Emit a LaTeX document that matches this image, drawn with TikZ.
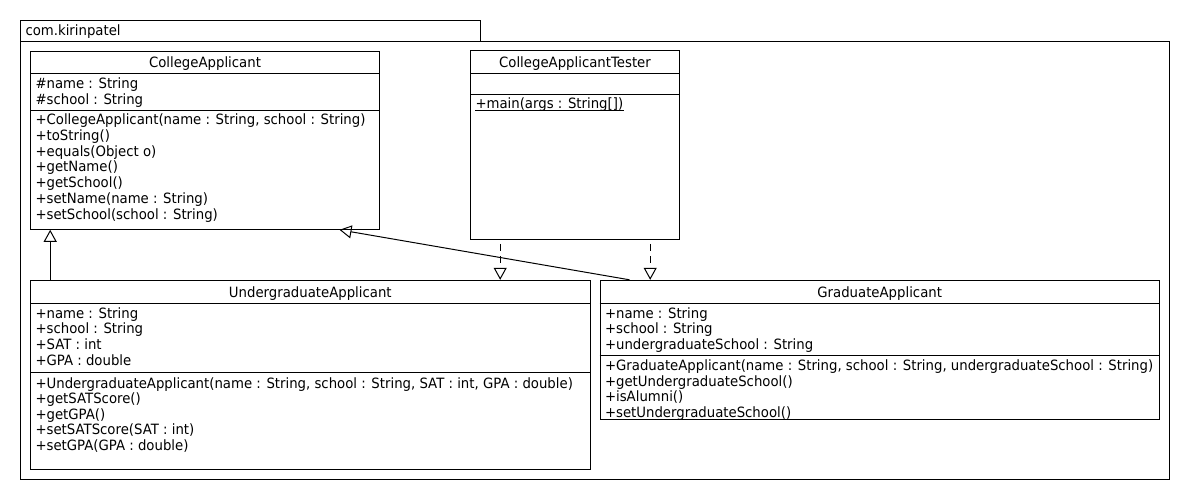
\documentclass[tikz,border=0pt]{standalone}
\usepackage{fontspec}
\setmainfont{DejaVu Sans}[FakeStretch=0.935]
\usetikzlibrary{arrows.meta,fit,calc}
\begin{document}
\begin{tikzpicture}[x=0.75pt,y=-0.75pt, line width=0.75pt,
  box/.style={draw, inner sep=0pt},
  txt/.style={anchor=base west, inner sep=0pt, font=\fontsize{10.65pt}{12pt}\selectfont},
  ttl/.style={anchor=base, inner sep=0pt, font=\fontsize{10.65pt}{12pt}\selectfont},
  gen/.style={-{Triangle[open,length=9pt,width=9.75pt]}},
  dep/.style={gen, dash pattern=on 5.25pt off 3.75pt, dash phase=6pt}]
\useasboundingbox (0,0) rectangle (1190,500);
\fill[white] (0,0) rectangle (1190,500);

% package frame
\coordinate (tab-nw) at (20.7,20);   \coordinate (tab-se) at (480.7,41);
\node[box, fit=(tab-nw)(tab-se)] (tab) {};
\coordinate (pk-nw) at (20.7,41);    \coordinate (pk-se) at (1169.3,479);
\node[box, fit=(pk-nw)(pk-se)] (pkg) {};
\node[txt] (pkname) at (25,35.5) {com.kirinpatel};

% CollegeApplicant
\coordinate (ca-nw) at (30.7,51);    \coordinate (ca-se) at (379.3,229.3);
\node[box, fit=(ca-nw)(ca-se)] (ca) {};
\draw (ca.west |- 0,73.5) -- (ca.east |- 0,73.5);
\draw (ca.west |- 0,110) -- (ca.east |- 0,110);
\node[ttl] (ca-title) at (205,67.5) {CollegeApplicant};
\foreach \t [count=\i from 0] in {{\#name : String},{\#school : String}}
  \node[txt] (ca-a\i) at (35,{88.5+\i*15.6}) {\t};
\foreach \t [count=\i from 0] in {{+CollegeApplicant(name : String, school : String)},{+toString()},{+equals(Object o)},{+getName()},{+getSchool()},{+setName(name : String)},{+setSchool(school : String)}}
  \node[txt] (ca-m\i) at (35,{124.5+\i*15.8}) {\t};

% CollegeApplicantTester
\coordinate (te-nw) at (470.7,50.7); \coordinate (te-se) at (679.3,239.3);
\node[box, fit=(te-nw)(te-se)] (te) {};
\draw (te.west |- 0,73.5) -- (te.east |- 0,73.5);
\draw (te.west |- 0,94.5) -- (te.east |- 0,94.5);
\node[ttl] (te-title) at (575,67.5) {CollegeApplicantTester};
\node[txt] (te-m0) at (475,108.5) {+main(args : String[])};
\draw ($(te-m0.base west)+(0,1.8)$) -- ($(te-m0.base east)+(0,1.8)$);

% UndergraduateApplicant
\coordinate (ug-nw) at (30.7,280.3); \coordinate (ug-se) at (590,469);
\node[box, fit=(ug-nw)(ug-se)] (ug) {};
\draw (ug.west |- 0,303.5) -- (ug.east |- 0,303.5);
\draw (ug.west |- 0,372.3) -- (ug.east |- 0,372.3);
\node[ttl] (ug-title) at (310.3,297.5) {UndergraduateApplicant};
\foreach \t [count=\i from 0] in {{+name : String},{+school : String},{+SAT : int},{+GPA : double}}
  \node[txt] (ug-a\i) at (35,{318+\i*15.7}) {\t};
\foreach \t [count=\i from 0] in {{+UndergraduateApplicant(name : String, school : String, SAT : int, GPA : double)},{+getSATScore()},{+getGPA()},{+setSATScore(SAT : int)},{+setGPA(GPA : double)}}
  \node[txt] (ug-m\i) at (35,{388+\i*15.6}) {\t};

% GraduateApplicant
\coordinate (gr-nw) at (600,280.3);  \coordinate (gr-se) at (1159.3,419);
\begin{scope}
  \clip (gr-nw) rectangle (gr-se);
  \node[ttl] (gr-title) at (879.7,297.5) {GraduateApplicant};
  \foreach \t [count=\i from 0] in {{+name : String},{+school : String},{+undergraduateSchool : String}}
    \node[txt] (gr-a\i) at (604.5,{318+\i*15.7}) {\t};
  \foreach \t [count=\i from 0] in {{+GraduateApplicant(name : String, school : String, undergraduateSchool : String)},{+getUndergraduateSchool()},{+isAlumni()},{+setUndergraduateSchool()}}
    \node[txt] (gr-m\i) at (604.5,{370.5+\i*15.7}) {\t};
\end{scope}
\node[box, fit=(gr-nw)(gr-se)] (gr) {};
\draw (gr.west |- 0,303.5) -- (gr.east |- 0,303.5);
\draw (gr.west |- 0,355) -- (gr.east |- 0,355);

% connectors
\draw[gen] ($(ug.north west)+(20,0)$) -- ($(ca.south west)+(20,0)$);
\draw[gen] ($(gr.north west)+(30,0)$) -- ($(ca.south west)+(309.3,0)$);
\draw[dep] ($(te.south west)+(30,0)$) -- ($(ug.north west)+(470,0)$);
\draw[dep] ($(te.south west)+(180,0)$) -- ($(gr.north west)+(50.7,0)$);
\end{tikzpicture}
\end{document}
